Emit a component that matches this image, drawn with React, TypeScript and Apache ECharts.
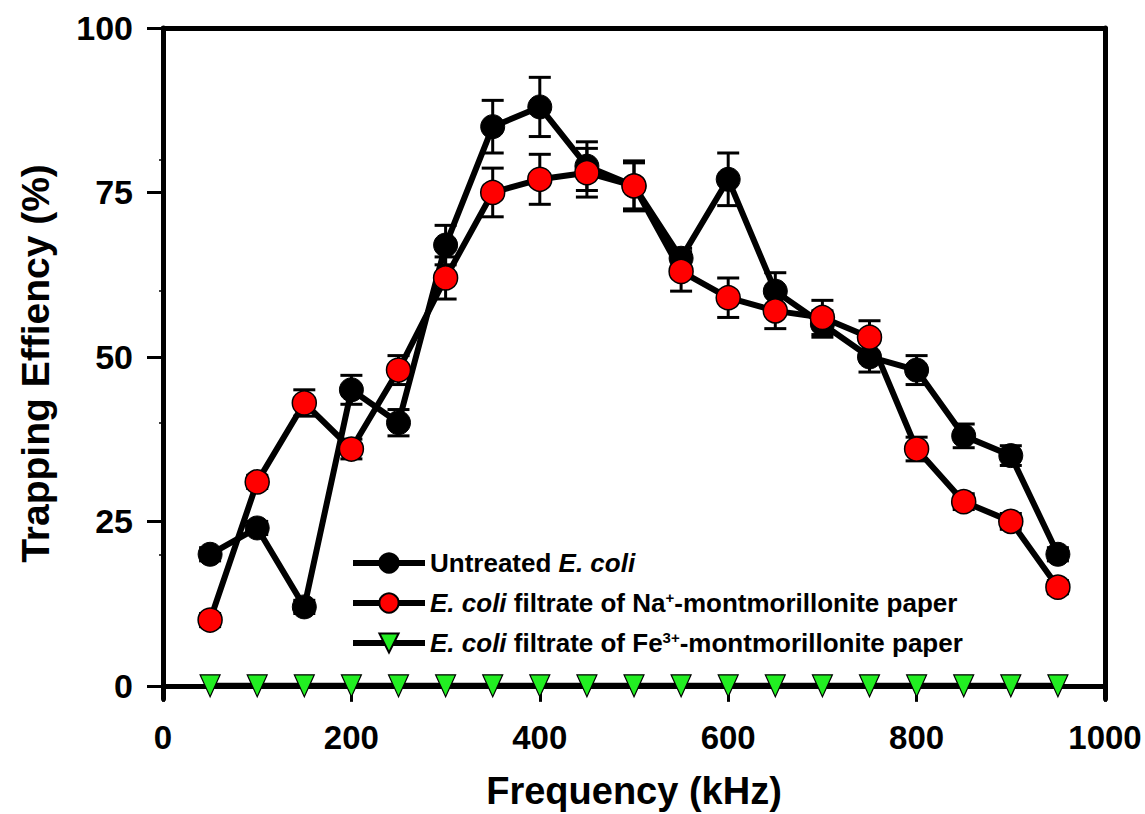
import React, { useEffect, useRef } from "react";
import * as echarts from "echarts";

const frequency = [50, 100, 150, 200, 250, 300, 350, 400, 450, 500, 550, 600, 650, 700, 750, 800, 850, 900, 950];
const untreated = [20, 24, 12, 45, 40, 67, 85, 88, 79, 76, 65, 77, 60, 55, 50, 48, 38, 35, 20];
const untreatedErr = [1, 1, 1, 2.2, 2, 3, 4, 4.5, 3.7, 3.5, 1.5, 4, 2.8, 2, 2.3, 2.2, 1.8, 1.5, 1];
const naFiltrate = [10, 31, 43, 36, 48, 62, 75, 77, 78, 76, 63, 59, 57, 56, 53, 36, 28, 25, 15];
const naErr = [1, 1, 2, 1.5, 2.2, 3.2, 3.7, 3.8, 3.7, 3.8, 3, 3, 2.7, 2.6, 2.5, 1.8, 1.2, 1.2, 1];
const feFiltrate = [0, 0, 0, 0, 0, 0, 0, 0, 0, 0, 0, 0, 0, 0, 0, 0, 0, 0, 0];

const xTicks = [0, 200, 400, 600, 800, 1000];
const yTicks = [0, 25, 50, 75, 100];
const yMinorTicks = [20, 40, 60, 80];

const NAME_U = "Untreated E. coli";
const NAME_NA = "E. coli filtrate of Na+-montmorillonite paper";
const NAME_FE = "E. coli filtrate of Fe3+-montmorillonite paper";

const FONT = "'Liberation Sans', Arial, Helvetica, sans-serif";

function errData(vals: number[], errs: number[]) {
  return frequency.map((f, i) => [f, vals[i] - errs[i], vals[i] + errs[i]]);
}

function renderErr(params: any, api: any) {
  const x = api.value(0);
  const lo = api.value(1);
  const hi = api.value(2);
  const p1 = api.coord([x, hi]);
  const p2 = api.coord([x, lo]);
  const hw = 11;
  const st = { stroke: "#000", lineWidth: 3 };
  return {
    type: "group",
    children: [
      { type: "line", shape: { x1: p1[0], y1: p1[1], x2: p2[0], y2: p2[1] }, style: st },
      { type: "line", shape: { x1: p1[0] - hw, y1: p1[1], x2: p1[0] + hw, y2: p1[1] }, style: st },
      { type: "line", shape: { x1: p2[0] - hw, y1: p2[1], x2: p2[0] + hw, y2: p2[1] }, style: st },
    ],
  };
}

export default function App() {
  const ref = useRef<HTMLDivElement>(null);
  useEffect(() => {
    if (!ref.current) return;
    const chart = echarts.init(ref.current, undefined, { renderer: "svg" });
    const axisLine = { show: true, lineStyle: { color: "#000", width: 5 } };
    chart.setOption({
      animation: false,
      backgroundColor: "#fff",
      textStyle: { fontFamily: FONT },
      grid: { left: 163, right: 40, top: 28, bottom: 115, containLabel: false, outerBoundsMode: "none" },
      legend: {
        data: [NAME_U, NAME_NA, NAME_FE],
        orient: "vertical",
        left: 345,
        top: 545,
        itemWidth: 72,
        itemHeight: 24,
        itemGap: 14,
        selectedMode: false,
        lineStyle: { width: 6, color: "#000" },
        formatter: (name: string) => {
          if (name === NAME_U) return "{b|Untreated }{i|E. coli}";
          if (name === NAME_NA) return "{i|E. coli}{b| filtrate of Na}{s|+}{b|-montmorillonite paper}";
          return "{i|E. coli}{b| filtrate of Fe}{s|3+}{b|-montmorillonite paper}";
        },
        textStyle: {
          fontFamily: FONT,
          fontSize: 26,
          fontWeight: "bold",
          color: "#000",
          rich: {
            b: { fontFamily: FONT, fontSize: 26, fontWeight: "bold", color: "#000", lineHeight: 26 },
            i: { fontFamily: FONT, fontSize: 26, fontWeight: "bold", fontStyle: "italic", color: "#000", lineHeight: 26 },
            s: { fontFamily: FONT, fontSize: 15, fontWeight: "bold", color: "#000", verticalAlign: "top", lineHeight: 26 },
          },
        },
      },
      xAxis: [
        {
          type: "value",
          min: 0,
          max: 1000,
          interval: 200,
          position: "bottom",
          axisLine: { ...axisLine, onZero: true, onZeroAxisIndex: 0 },
          axisTick: { show: true, length: 16, inside: false, lineStyle: { color: "#000", width: 3 }, customValues: xTicks },
          axisLabel: {
            show: true,
            margin: 22,
            fontSize: 33,
            fontWeight: "bold",
            color: "#000",
            fontFamily: FONT,
            customValues: xTicks,
            formatter: (v: number) => String(v),
          },
          splitLine: { show: false },
          name: "Frequency (kHz)",
          nameLocation: "middle",
          nameGap: 72,
          nameTextStyle: { fontSize: 38, lineHeight: 40, fontWeight: "bold", color: "#000", fontFamily: FONT },
        },
        {
          type: "value",
          min: 0,
          max: 1000,
          position: "top",
          axisLine: { ...axisLine, onZero: false },
          axisTick: { show: false },
          axisLabel: { show: false },
          splitLine: { show: false },
        },
      ],
      yAxis: [
        {
          type: "value",
          min: -2,
          max: 100,
          position: "left",
          axisLine: { ...axisLine, onZero: false },
          axisTick: { show: true, length: 16, inside: false, lineStyle: { color: "#000", width: 3 }, customValues: yTicks },
          axisLabel: {
            show: true,
            margin: 30,
            fontSize: 34,
            fontWeight: "bold",
            color: "#000",
            fontFamily: FONT,
            customValues: yTicks,
            formatter: (v: number) => String(v),
          },
          splitLine: { show: false },
          name: "Trapping Effiency (%)",
          nameLocation: "middle",
          nameGap: 108,
          nameRotate: 90,
          nameTextStyle: { fontSize: 39, fontWeight: "bold", color: "#000", fontFamily: FONT },
        },
        {
          type: "value",
          min: -2,
          max: 100,
          position: "left",
          axisLine: { show: false, onZero: false },
          axisTick: { show: true, length: 4, inside: false, lineStyle: { color: "#000", width: 1.5 }, customValues: yMinorTicks },
          axisLabel: { show: false },
          splitLine: { show: false },
        },
        {
          type: "value",
          min: -2,
          max: 100,
          position: "right",
          axisLine: { ...axisLine, onZero: false },
          axisTick: { show: false },
          axisLabel: { show: false },
          splitLine: { show: false },
        },
      ],
      series: [
        {
          type: "custom",
          name: "errU",
          xAxisIndex: 0,
          yAxisIndex: 0,
          renderItem: renderErr,
          data: errData(untreated, untreatedErr),
          silent: true,
        },
        {
          type: "line",
          name: NAME_U,
          xAxisIndex: 0,
          yAxisIndex: 0,
          data: frequency.map((f, i) => [f, untreated[i]]),
          symbol: "circle",
          symbolSize: 24,
          lineStyle: { color: "#000", width: 6 },
          itemStyle: { color: "#000", borderColor: "#000", borderWidth: 1 },
        },
        {
          type: "custom",
          name: "errNa",
          xAxisIndex: 0,
          yAxisIndex: 0,
          renderItem: renderErr,
          data: errData(naFiltrate, naErr),
          silent: true,
        },
        {
          type: "line",
          name: NAME_NA,
          xAxisIndex: 0,
          yAxisIndex: 0,
          data: frequency.map((f, i) => [f, naFiltrate[i]]),
          symbol: "circle",
          symbolSize: 24,
          lineStyle: { color: "#000", width: 6 },
          itemStyle: { color: "#ff0000", borderColor: "#000", borderWidth: 1.5 },
        },
        {
          type: "line",
          name: NAME_FE,
          xAxisIndex: 0,
          yAxisIndex: 0,
          data: frequency.map((f, i) => [f, feFiltrate[i]]),
          symbol: "triangle",
          symbolRotate: 180,
          symbolSize: [20, 22],
          lineStyle: { color: "#000", width: 6 },
          itemStyle: { color: "#22ee22", borderColor: "#000", borderWidth: 1.2 },
        },
      ],
    });
    return () => chart.dispose();
  }, []);
  return <div ref={ref} style={{ width: 1145, height: 814, position: "absolute", left: 0, top: 0 }} />;
}
